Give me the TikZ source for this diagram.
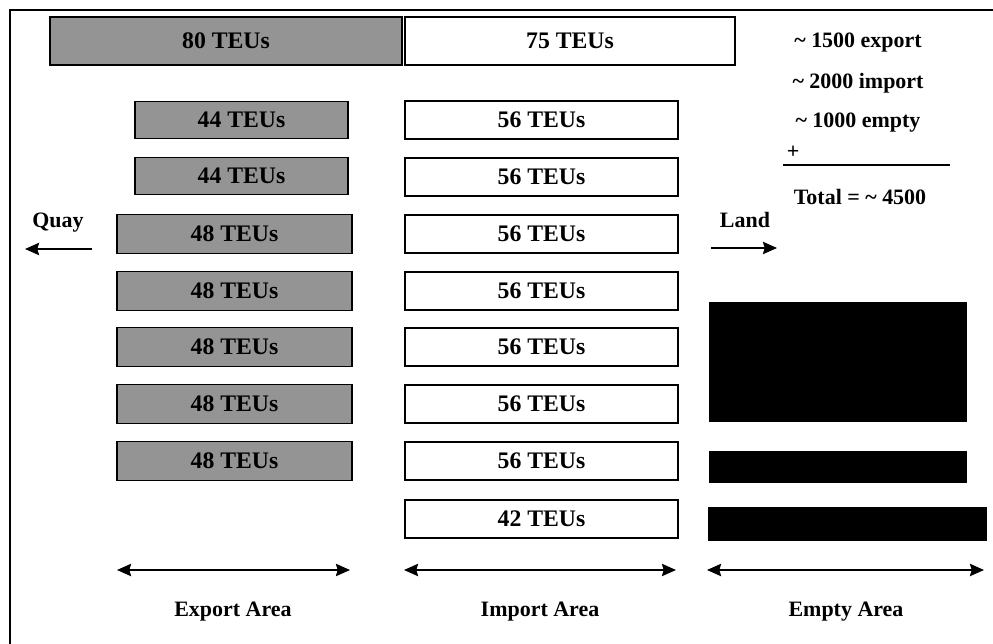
\documentclass[tikz,border=0pt]{standalone}
\usepackage{fontspec}
\setmainfont{Liberation Serif}
\usetikzlibrary{arrows.meta}
\begin{document}
\begin{tikzpicture}[x=0.02cm, y=-0.02cm, >={Stealth[length=8pt,width=7pt,inset=1pt]},
        every node/.style={font=\bfseries\fontsize{12.5}{15}\selectfont, inner sep=0pt},
        exbox/.style={draw, line width=0.8pt, fill=black!42, font=\bfseries\fontsize{13.5}{16}\selectfont},
        imbox/.style={draw, line width=0.8pt, fill=white, minimum width=5.46cm, minimum height=0.76cm, font=\bfseries\fontsize{13.5}{16}\selectfont},
        embox/.style={draw, line width=0.8pt, fill=black},
        area/.style={<->, line width=1.1pt}]
    \useasboundingbox (0,0) rectangle (993,644);
    \draw[line width=0.8pt] (10,10) rectangle (1010,660);
    % top row
    \node[exbox, minimum width=7.04cm, minimum height=0.96cm] (ex80) at (226,41) {80 TEUs};
    \node[imbox, minimum width=6.6cm, minimum height=0.96cm] (im75) at (570,41) {75 TEUs};
    % export area
    \node[exbox, minimum width=4.26cm, minimum height=0.74cm] (ex1) at (241.5,120) {44 TEUs};
    \node[exbox, minimum width=4.26cm, minimum height=0.74cm] (ex2) at (241.5,176) {44 TEUs};
    \node[exbox, minimum width=4.7cm, minimum height=0.78cm] (ex3) at (234.5,234) {48 TEUs};
    \node[exbox, minimum width=4.7cm, minimum height=0.78cm] (ex4) at (234.5,291) {48 TEUs};
    \node[exbox, minimum width=4.7cm, minimum height=0.78cm] (ex5) at (234.5,347) {48 TEUs};
    \node[exbox, minimum width=4.7cm, minimum height=0.78cm] (ex6) at (234.5,404) {48 TEUs};
    \node[exbox, minimum width=4.7cm, minimum height=0.78cm] (ex7) at (234.5,461) {48 TEUs};
    % import area
    \node[imbox] (im1) at (541.5,120) {56 TEUs};
    \node[imbox] (im2) at (541.5,177) {56 TEUs};
    \node[imbox] (im3) at (541.5,234) {56 TEUs};
    \node[imbox] (im4) at (541.5,291) {56 TEUs};
    \node[imbox] (im5) at (541.5,347) {56 TEUs};
    \node[imbox] (im6) at (541.5,404) {56 TEUs};
    \node[imbox] (im7) at (541.5,461) {56 TEUs};
    \node[imbox] (im8) at (541.5,519) {42 TEUs};
    % empty area
    \node[embox, minimum width=5.14cm, minimum height=2.38cm] (em1) at (838,362) {};
    \node[embox, minimum width=5.14cm, minimum height=0.6cm] (em2) at (838,467) {};
    \node[embox, minimum width=5.54cm, minimum height=0.64cm] (em3) at (847.5,524) {};
    % totals
    \node (nexp) at (858,43) {\textasciitilde{} 1500 export};
    \node (nimp) at (858,83) {\textasciitilde{} 2000 import};
    \node (nemp) at (858,123) {\textasciitilde{} 1000 empty};
    \node (plus) at (793,152) {+};
    \coordinate (sumL) at (783,165);
    \coordinate (sumR) at (950,165);
    \draw[line width=0.8pt] (sumL)--(sumR);
    \node (total) at (860,197) {Total = \textasciitilde{} 4500};
    % directions
    \node (quay) at (58,223) {Quay};
    \coordinate (quayA) at (92,249);
    \coordinate (quayB) at (25,249);
    \draw[->, line width=1.1pt] (quayA)--(quayB);
    \node (land) at (745,220) {Land};
    \coordinate (landA) at (711,248);
    \coordinate (landB) at (777,248);
    \draw[->, line width=1.1pt] (landA)--(landB);
    % area arrows
    \coordinate (exL) at (117,570);
    \coordinate (exR) at (350,570);
    \coordinate (imL) at (404,570);
    \coordinate (imR) at (676,570);
    \coordinate (emL) at (707,570);
    \coordinate (emR) at (984,570);
    \draw[area] (exL)--(exR);
    \draw[area] (imL)--(imR);
    \draw[area] (emL)--(emR);
    \node (exlab) at (233,612) {Export Area};
    \node (imlab) at (540,612) {Import Area};
    \node (emlab) at (846,612) {Empty Area};
\end{tikzpicture}
\end{document}
